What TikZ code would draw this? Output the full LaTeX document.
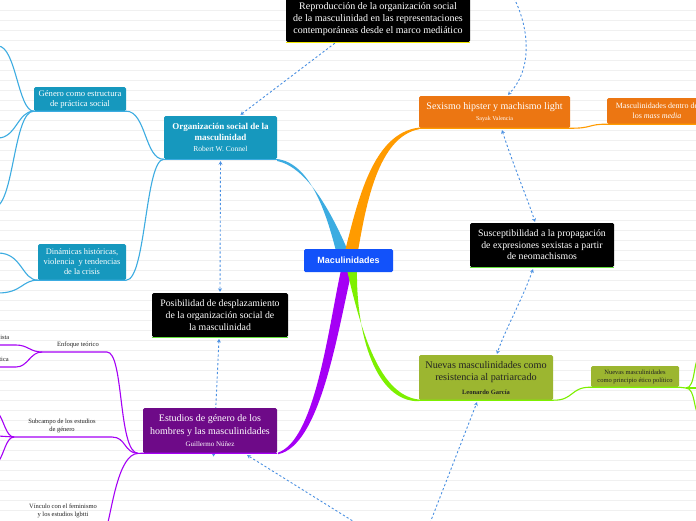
\documentclass[tikz,border=0pt]{standalone}
\usepackage{fontspec}
\setmainfont{Liberation Serif}
\setsansfont{Liberation Sans}
\usetikzlibrary{arrows.meta,calc}
\definecolor{cblue}{RGB}{18,82,250}
\definecolor{teal1}{RGB}{22,152,190}
\definecolor{tealline}{RGB}{60,172,225}
\definecolor{orbox}{RGB}{236,118,18}
\definecolor{orline}{RGB}{255,155,0}
\definecolor{purbox}{RGB}{110,10,136}
\definecolor{purline}{RGB}{165,0,245}
\definecolor{grline}{RGB}{125,240,0}
\definecolor{olive}{RGB}{156,182,48}
\definecolor{dashblue}{RGB}{74,144,226}
\definecolor{ulyellow}{RGB}{240,230,0}
\definecolor{ulgreen}{RGB}{100,225,60}
\definecolor{darktext}{RGB}{35,35,35}
\tikzset{
  mbox/.style={rounded corners=1.5pt, align=center, inner sep=0pt, text=white},
  rel/.style={draw=dashblue, line width=0.9pt, dash pattern=on 2.2pt off 2.2pt},
  tipend/.style={-{Stealth[length=3.5pt,width=4pt]}},
  tipboth/.style={{Stealth[length=3.5pt,width=4pt]}-{Stealth[length=3.5pt,width=4pt]}},
  thinline/.style={line width=1.1pt},
  plainlbl/.style={align=center, inner sep=0pt, text=darktext, font=\fontsize{6.5}{7.5}\selectfont},
}
\begin{document}
\begin{tikzpicture}[x=1pt,y=-1pt]
\useasboundingbox (0,0) rectangle (696,520);
\clip (0,0) rectangle (696,520);
\fill[white] (0,0) rectangle (696,520);
\foreach \yy in {10,20,...,510} \draw[black!6, line width=0.4pt] (0,\yy) -- (696,\yy);

% coordinates for off-canvas ends
\coordinate (gA) at (-2,46);
\coordinate (gB) at (-2,138);
\coordinate (gC) at (-4,207);
\coordinate (dA) at (-2,253);
\coordinate (dB) at (-2,293);
\coordinate (iA) at (-2,345);
\coordinate (iB) at (-2,367);
\coordinate (sA) at (-2,413);
\coordinate (sB) at (-2,436);
\coordinate (sC) at (-2,462);
\coordinate (vA) at (106,530);
\coordinate (pA) at (700,358);
\coordinate (pB) at (700,388);
\coordinate (pC) at (700,414);
\coordinate (rTop) at (514,-2);
\coordinate (rBotL) at (356,523);
\coordinate (rBotR) at (430,523);

% ---------- relation lines drawn behind boxes
\draw[rel, tipboth] (219,339) -- (213.5,456.5);

% ---------- tapered main branches
\fill[tealline] (336,251) .. controls (326,212) and (310,163) .. (277,159) -- (277,161) .. controls (308,167) and (333,216) .. (348,251) -- cycle;
\fill[orline] (345,251) .. controls (358,200) and (373,133) .. (419,127.6) -- (419,129.2) .. controls (378,137) and (366,205) .. (358,251) -- cycle;
\fill[purline] (341,270) .. controls (328,330) and (315,440) .. (278,452.6) -- (278,454.2) .. controls (320,446) and (337,335) .. (352,270) -- cycle;
\fill[grline] (347,270) .. controls (362,335) and (380,395) .. (419,399.6) -- (419,401.2) .. controls (376,402) and (356,335) .. (357,270) -- cycle;

% ---------- nodes
\node[mbox, fill=cblue, minimum width=89pt, minimum height=23pt, font=\sffamily\bfseries\fontsize{9}{10}\selectfont] (c) at (348.5,260.5) {Maculinidades};

\node[mbox, fill=black, minimum width=184pt, minimum height=45pt, font=\fontsize{10}{12}\selectfont] (repro) at (378,19.5) {Reproducción de la organización social\\de la masculinidad en las representaciones\\contemporáneas desde el marco mediático};

\node[mbox, fill=teal1, minimum width=113pt, minimum height=43pt, font=\fontsize{9}{11}\selectfont] (org) at (220.5,137.5) {\textbf{Organización social de la}\\\textbf{masculinidad}\\{\fontsize{7.5}{8}\selectfont Robert W. Connel}};

\node[mbox, fill=teal1, minimum width=92pt, minimum height=24pt, font=\fontsize{8.6}{10}\selectfont] (gen) at (80,99) {Género como estructura\\de práctica social};

\node[mbox, fill=teal1, minimum width=88pt, minimum height=36pt, font=\fontsize{8.4}{10}\selectfont] (din) at (82,262) {Dinámicas históricas,\\violencia \ y tendencias\\de la crisis};

\node[mbox, fill=black, minimum width=136pt, minimum height=44pt, font=\fontsize{9.8}{12}\selectfont] (pos) at (220,315) {Posibilidad de desplazamiento\\de la organización social de\\la masculinidad};

\node[mbox, fill=purbox, minimum width=134pt, minimum height=45pt, font=\fontsize{10}{13.5}\selectfont] (est) at (210,430.5) {Estudios de género de los\\hombres y las masculinidades\\[-2pt]{\fontsize{7}{8}\selectfont Guillermo Núñez}};

\node[mbox, fill=orbox, minimum width=151pt, minimum height=32pt, font=\fontsize{10}{13}\selectfont] (sex) at (494.5,112) {Sexismo hipster y machismo light\\[-2pt]{\fontsize{6}{7}\selectfont Sayak Valencia}};

\node[mbox, fill=orbox, minimum width=100pt, minimum height=26pt, font=\fontsize{8}{10}\selectfont] (mass) at (657,111) {Masculinidades dentro de\\los \textit{mass media}};

\node[mbox, fill=black, minimum width=144pt, minimum height=44pt, font=\fontsize{9.8}{11.5}\selectfont] (sus) at (542,245) {Susceptibilidad a la propagación\\de expresiones sexistas a partir\\de neomachismos};

\node[mbox, fill=olive, text=darktext, minimum width=134pt, minimum height=45pt, font=\fontsize{10.2}{12.5}\selectfont] (nue) at (486,377.5) {Nuevas masculinidades como\\resistencia al patriarcado\\[1pt]{\fontsize{6.5}{7}\selectfont\bfseries Leonardo García}};

\node[mbox, fill=olive, text=darktext, minimum width=88pt, minimum height=21pt, font=\fontsize{6.5}{8}\selectfont] (pri) at (635,376.5) {Nuevas masculinidades\\como principio ético político};

\node[plainlbl] (enf) at (78,344.5) {Enfoque teórico};
\node[plainlbl] (sub) at (62,426) {Subcampo de los estudios\\de género};
\node[plainlbl] (vin) at (63,511) {Vínculo con el feminismo\\y los estudios lgbtti};
\node[plainlbl, anchor=east] (ista) at (9.5,337.5) {ista};
\node[plainlbl, anchor=east] (tica) at (9,359.5) {tica};

% ---------- underlines
\draw[ulyellow, line width=1.3pt] (repro.south west) -- (repro.south east);
\draw[ulgreen, line width=1.3pt] (pos.south west) -- (pos.south east);
\draw[ulgreen, line width=1.3pt] (sus.south west) -- (sus.south east);

% ---------- thin sub-branches
\coordinate (ej) at (42,352);
\coordinate (ee) at (107,352);
\coordinate (sj) at (14,437);
\coordinate (se) at (112,437);
\coordinate (ej2) at (138,453.4);
\coordinate (pj) at (686,388);

\draw[tealline, thinline] (org.south east) -- (org.south west);
\draw[tealline, thinline] (org.south west) .. controls (145,160) and (146,111) .. (gen.south east) -- (gen.south west);
\draw[tealline, thinline] (org.south west) .. controls (145,160) and (146,280) .. (din.south east) -- (din.south west);
\draw[tealline, thinline] (gen.south west) .. controls (18,111) and (16,46) .. (gA);
\draw[tealline, thinline] (gen.south west) .. controls (18,111) and (16,138) .. (gB);
\draw[tealline, thinline] (gen.south west) .. controls (14,111) and (14,200) .. (gC);
\draw[tealline, thinline] (din.south west) .. controls (22,280) and (22,253) .. (dA);
\draw[tealline, thinline] (din.south west) .. controls (22,280) and (22,293) .. (dB);

\draw[orline, thinline] (sex.south west) -- (sex.south east) .. controls (592,128.5) and (588,124) .. (mass.south west) -- (mass.south east);

\draw[grline, thinline] (nue.south west) -- (nue.south east) .. controls (574,400.5) and (570,387) .. (pri.south west) -- (pri.south east) -- (pj);
\draw[grline, thinline] (pj) .. controls (696,388) and (693,358) .. (pA);
\draw[grline, thinline] (pj) -- (pB);
\draw[grline, thinline] (pj) .. controls (696,388) and (693,414) .. (pC);

\draw[purline, thinline] (est.south east) -- (est.south west) -- (ej2);
\draw[purline, thinline] (ej2) .. controls (118,452) and (124,352) .. (ee) -- (ej);
\draw[purline, thinline] (ej2) .. controls (124,453) and (126,437) .. (se) -- (sj);
\draw[purline, thinline] (ej2) .. controls (118,454) and (112,510) .. (vA);
\draw[purline, thinline] (ej) .. controls (30,352) and (28,345) .. (16,345) -- (iA);
\draw[purline, thinline] (ej) .. controls (30,352) and (28,367) .. (16,367) -- (iB);
\draw[purline, thinline] (sj) .. controls (6,437) and (4,420) .. (sA);
\draw[purline, thinline] (sj) -- (sB);
\draw[purline, thinline] (sj) .. controls (6,437) and (4,455) .. (sC);

% ---------- relation lines
\draw[rel, tipend] ($(repro.south west)+(49,1)$) -- ($(org.north)+(20,-1)$);
\draw[rel, tipend] (rTop) .. controls (530,30) and (532,70) .. ($(sex.north)+(13.5,-1)$);
\draw[rel, tipboth] ($(sex.south)+(7.5,2)$) .. controls (515,170) and (528,200) .. ($(sus.north)+(-7,-1)$);
\draw[rel, tipboth] ($(sus.south)+(-9,2)$) .. controls (522,300) and (505,330) .. ($(nue.north)+(11,-1)$);
\draw[rel, tipboth] ($(org.south)+(0,2)$) -- ($(pos.north)+(0,-1)$);
\draw[rel, tipend] (rBotL) -- ($(est.south east)+(-30,2)$);
\draw[rel, tipend] (rBotR) -- ($(nue.south)+(-9,2)$);
\end{tikzpicture}
\end{document}
